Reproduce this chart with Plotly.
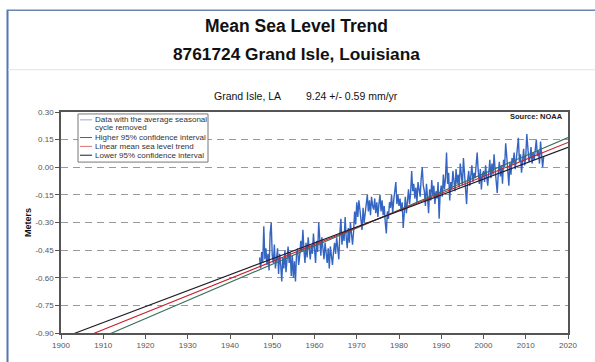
import plotly.graph_objects as go

# Mean sea level at Grand Isle, LA (meters), average seasonal cycle removed,
# four readings per year starting in 1947.
start_year = 1947
msl_values = [
    -0.49, -0.55, -0.46, -0.52,  # 1947
    -0.32, -0.50, -0.44, -0.53,
    -0.47, -0.56, -0.36, -0.30,
    -0.48, -0.52, -0.42, -0.55,  # 1950
    -0.50, -0.44, -0.58, -0.47,
    -0.53, -0.62, -0.49, -0.55,
    -0.45, -0.57, -0.50, -0.43,
    -0.52, -0.46, -0.59, -0.48,
    -0.60, -0.51, -0.62, -0.47,  # 1955
    -0.44, -0.53, -0.48, -0.40,
    -0.46, -0.34, -0.45, -0.52,
    -0.41, -0.49, -0.38, -0.44,
    -0.50, -0.42, -0.47, -0.36,
    -0.44, -0.52, -0.40, -0.46,  # 1960
    -0.30, -0.42, -0.48, -0.38,
    -0.45, -0.50, -0.41, -0.47,
    -0.52, -0.44, -0.55, -0.43,
    -0.49, -0.53, -0.46, -0.41,
    -0.47, -0.38, -0.44, -0.50,  # 1965
    -0.36, -0.28, -0.42, -0.35,
    -0.40, -0.27, -0.38, -0.44,
    -0.33, -0.41, -0.30, -0.37,
    -0.42, -0.35, -0.24, -0.31,
    -0.19, -0.27, -0.18, -0.23,  # 1970
    -0.29, -0.34, -0.22, -0.30,
    -0.25, -0.20, -0.15, -0.24,
    -0.18, -0.26, -0.16, -0.21,
    -0.23, -0.17, -0.25, -0.19,
    -0.27, -0.20, -0.15, -0.24,  # 1975
    -0.18, -0.26, -0.21, -0.30,
    -0.36, -0.24, -0.28, -0.19,
    -0.22, -0.15, -0.25, -0.18,
    -0.13, -0.08, -0.20, -0.15,
    -0.21, -0.17, -0.24, -0.19,  # 1980
    -0.33, -0.22, -0.16, -0.25,
    -0.18, -0.12, -0.20, -0.14,
    -0.02, -0.13, -0.09, -0.17,
    -0.11, -0.19, -0.08, -0.14,
    -0.16, -0.06, 0.00, -0.10,   # 1985
    -0.13, -0.21, -0.09, -0.16,
    -0.25, -0.12, -0.18, -0.07,
    -0.15, -0.10, -0.20, -0.13,
    -0.17, -0.08, -0.28, -0.14,
    -0.10, -0.16, -0.04, -0.12,  # 1990
    -0.06, 0.08, -0.09, -0.03,
    -0.18, -0.08, -0.12, -0.02,
    -0.07, -0.13, -0.01, -0.09,
    -0.04, -0.11, 0.02, -0.06,
    -0.10, 0.05, -0.05, -0.12,   # 1995
    -0.20, -0.07, -0.02, -0.10,
    -0.05, 0.01, -0.08, -0.03,
    -0.06, 0.03, 0.08, -0.02,
    -0.09, -0.01, -0.12, -0.04,
    -0.02, -0.08, 0.01, -0.05,   # 2000
    -0.10, -0.03, 0.04, -0.06,
    0.02, -0.04, 0.07, -0.01,
    -0.08, -0.14, -0.03, 0.03,
    -0.05, 0.01, -0.09, 0.04,
    0.00, 0.13, 0.06, -0.02,     # 2005
    -0.10, 0.03, -0.04, 0.05,
    0.02, 0.08, -0.01, 0.04,
    0.09, 0.16, 0.03, 0.07,
    -0.03, 0.05, 0.10, 0.01,
    0.06, 0.18, 0.09, 0.03,      # 2010
    0.05, 0.11, 0.02, 0.08,
    0.04, 0.12, 0.15, 0.06,
    0.09, 0.02, 0.14, 0.07,
    0.00, 0.06,                  # 2014
]
years = [start_year + i / 4 for i in range(len(msl_values))]

# Linear trend and its 95% confidence interval (mm/yr)
trend_rate_mm = 9.24
ci_rate_mm = 0.59
pivot_year = 1975
pivot_level = -0.281

x_ticks = list(range(1900, 2021, 10))
y_ticks = [0.30, 0.15, 0.00, -0.15, -0.30, -0.45, -0.60, -0.75, -0.90]
y_tick_text = ["%.2f" % v for v in y_ticks]

FONT = "Liberation Sans, Arial, sans-serif"
W, H = 595, 362
L, R, T, B = 61, 27, 112, 25


def px(x):
    return (x - L) / (W - L - R)


def py(y):
    return (H - B - y) / (H - T - B)


def trend_line(rate_mm):
    xs = [1900, 2020]
    return xs, [pivot_level + rate_mm / 1000.0 * (x - pivot_year) for x in xs]


C_DATA = "#3565c2"
C_HIGH = "#3a6e5e"
C_TREND = "#c8202a"
C_LOW = "#1c1c28"

fig = go.Figure()
fig.add_trace(go.Scatter(x=years, y=msl_values, mode="lines",
                         line=dict(color=C_DATA, width=1.4),
                         name="Data with the average seasonal cycle removed"))
for rate, color, name in [
    (trend_rate_mm + ci_rate_mm, C_HIGH, "Higher 95% confidence interval"),
    (trend_rate_mm, C_TREND, "Linear mean sea level trend"),
    (trend_rate_mm - ci_rate_mm, C_LOW, "Lower 95% confidence interval"),
]:
    xs, ys = trend_line(rate)
    fig.add_trace(go.Scatter(x=xs, y=ys, mode="lines",
                             line=dict(color=color, width=1.1), name=name))

shapes = [
    # page frame and header separator
    dict(type="line", xref="paper", yref="paper", x0=px(7.5), x1=px(7.5),
         y0=py(8), y1=py(370), line=dict(color="#5276b6", width=2)),
    dict(type="line", xref="paper", yref="paper", x0=px(7), x1=px(600),
         y0=py(8.5), y1=py(8.5), line=dict(color="#6b84b0", width=1.5)),
    dict(type="line", xref="paper", yref="paper", x0=px(8), x1=px(600),
         y0=py(69), y1=py(69), line=dict(color="#e2e2e2", width=1)),
    # legend box
    dict(type="rect", xref="paper", yref="paper", x0=px(78), x1=px(208),
         y0=py(114), y1=py(163), line=dict(color="#777777", width=1),
         fillcolor="white", layer="above"),
]

legend_items = [
    (120, "#9aa6e0", ["Data with the average seasonal", "cycle removed"]),
    (138, C_HIGH, ["Higher 95% confidence interval"]),
    (147, "#e07070", ["Linear mean sea level trend"]),
    (156, C_LOW, ["Lower 95% confidence interval"]),
]

annotations = [
    dict(text="<b>Mean Sea Level Trend</b>", x=px(296), y=py(24),
         font=dict(size=17.5, color="#111111", family=FONT)),
    dict(text="<b>8761724 Grand Isle, Louisiana</b>", x=px(296), y=py(53),
         font=dict(size=17.3, color="#111111", family=FONT)),
    dict(text="Grand Isle, LA", x=px(247), y=py(96),
         font=dict(size=10.5, color="#111111", family=FONT)),
    dict(text="9.24 +/- 0.59 mm/yr", x=px(352), y=py(96),
         font=dict(size=10.5, color="#111111", family=FONT)),
    dict(text="<b>Source: NOAA</b>", x=px(565), y=py(117), xanchor="right",
         font=dict(size=7.5, color="#222222", family=FONT)),
    dict(text="<b>Meters</b>", x=px(28), y=py(225), textangle=-90,
         font=dict(size=9, color="#111111", family=FONT)),
]

for y0, color, lines in legend_items:
    shapes.append(dict(type="line", xref="paper", yref="paper",
                       x0=px(80), x1=px(92), y0=py(y0), y1=py(y0),
                       line=dict(color=color, width=1), layer="above"))
    for k, line_text in enumerate(lines):
        annotations.append(dict(text=line_text, x=px(93), y=py(y0 + 7.5 * k),
                                xanchor="left",
                                font=dict(size=8, color="#333333", family=FONT)))

for a in annotations:
    a.setdefault("xref", "paper")
    a.setdefault("yref", "paper")
    a.setdefault("showarrow", False)
    a.setdefault("xanchor", "center")
    a.setdefault("yanchor", "middle")

axis_common = dict(
    showline=True, linecolor="#555555", linewidth=1.5, mirror=True,
    ticks="outside", ticklen=4, tickcolor="#555555", tickwidth=1,
    tickfont=dict(size=8, color="#555555", family=FONT), zeroline=False,
)

fig.update_layout(
    width=W, height=H,
    margin=dict(l=L, r=R, t=T, b=B),
    paper_bgcolor="white", plot_bgcolor="white",
    showlegend=False,
    shapes=shapes,
    annotations=annotations,
    xaxis=dict(range=[1900, 2020], tickvals=x_ticks, showgrid=False,
               **axis_common),
    yaxis=dict(range=[-0.90, 0.30], tickvals=y_ticks, ticktext=y_tick_text,
               showgrid=True, gridcolor="#9a9a9a", gridwidth=1,
               griddash="7px,5px", **axis_common),
)

fig.write_html("out.html")
